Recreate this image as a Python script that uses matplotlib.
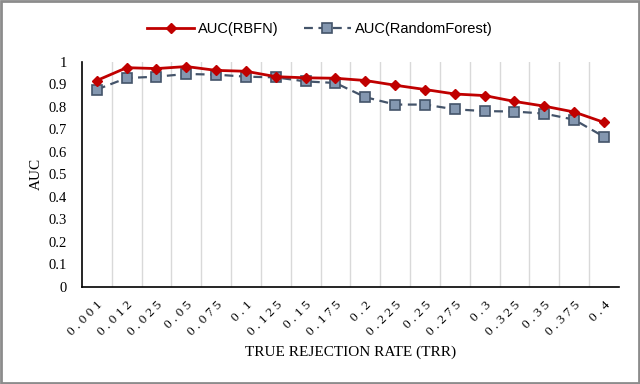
import matplotlib
matplotlib.use("Agg")
import matplotlib.pyplot as plt
from matplotlib.patches import Rectangle

# data
trr = ["0.001", "0.012", "0.025", "0.05", "0.075", "0.1", "0.125", "0.15", "0.175",
       "0.2", "0.225", "0.25", "0.275", "0.3", "0.325", "0.35", "0.375", "0.4"]
auc_rbfn = [0.917, 0.974, 0.970, 0.979, 0.962, 0.958, 0.934, 0.929, 0.927,
            0.917, 0.896, 0.877, 0.857, 0.850, 0.824, 0.803, 0.777, 0.731]
auc_rf = [0.877, 0.928, 0.934, 0.946, 0.943, 0.934, 0.931, 0.913, 0.906,
          0.843, 0.810, 0.810, 0.789, 0.781, 0.779, 0.770, 0.743, 0.667]

serif = "Liberation Serif"
sans = "Liberation Sans"

fig = plt.figure(figsize=(6.4, 3.84), dpi=100)
ax = fig.add_axes([0.128, 0.253, 0.839, 0.586])

x = list(range(len(trr)))
ax.plot(x, auc_rbfn, color="#C00000", lw=2, marker="D", ms=5.5,
        mfc="#C00000", mec="#C00000", label="AUC(RBFN)", zorder=4)
ax.plot(x, auc_rf, color="#44546A", lw=1.6, ls=(0, (4, 2.5)), marker="s", ms=7.5,
        mfc="#8497B0", mec="#44546A", mew=1.2, label="AUC(RandomForest)", zorder=3)

ax.set_xlim(-0.5, len(trr) - 0.5)
ax.set_ylim(0, 1)
ax.set_yticks([i / 10 for i in range(11)])
ax.set_yticklabels(["0", "0.1", "0.2", "0.3", "0.4", "0.5", "0.6", "0.7", "0.8", "0.9", "1"],
                   fontfamily=serif, fontsize=10.5)
ax.set_xticks(x)
ax.set_xticklabels([" ".join(t) for t in trr], rotation=45, ha="right", rotation_mode="anchor",
                   fontfamily=serif, fontsize=9.5)
ax.tick_params(axis="x", length=0, pad=9)
ax.tick_params(axis="y", length=0, pad=11)

# vertical gridlines between categories
for b in range(1, len(trr)):
    ax.axvline(b - 0.5, color="#D9D9D9", lw=1, zorder=0)

for s in ["top", "right"]:
    ax.spines[s].set_visible(False)
for s in ["left", "bottom"]:
    ax.spines[s].set_color("black")
    ax.spines[s].set_linewidth(1.2)

ax.set_ylabel("AUC", fontfamily=serif, fontsize=11, labelpad=4)
ax.set_xlabel("TRUE REJECTION RATE (TRR)", fontfamily=serif, fontsize=11, labelpad=5)

fig.legend(loc="center", bbox_to_anchor=(0.5, 0.925), ncol=2, frameon=False,
           prop={"family": sans, "size": 10.5}, handlelength=3.2, columnspacing=1.7,
           handletextpad=0.3)

fig.add_artist(Rectangle((0.002, 0.003), 0.996, 0.994, transform=fig.transFigure,
                         fill=False, edgecolor="#8C8C8C", lw=2))

fig.savefig("out.png", dpi=100)
